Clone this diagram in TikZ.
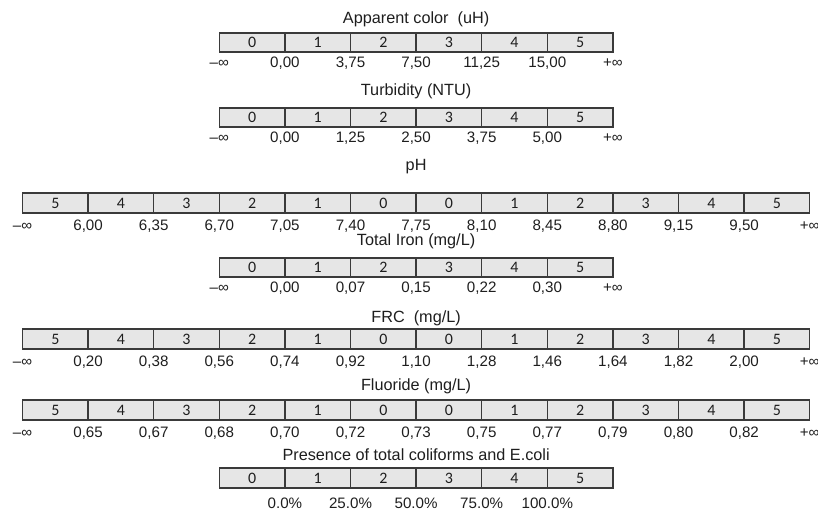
\documentclass[tikz,border=0pt]{standalone}
\usepackage{fontspec}
\setmainfont{Liberation Sans}
\newfontfamily\cellfont{Carlito}
\definecolor{cellfill}{HTML}{E6E6E6}
\definecolor{edge}{HTML}{3A3A3A}
\definecolor{ink}{HTML}{1E1E1E}
\tikzset{
  cellbox/.style={draw=edge, fill=cellfill, line width=1.4bp, minimum width=65.6bp,
    minimum height=#1, inner sep=0pt, font=\cellfont\fontsize{16}{16}\selectfont, text=ink},
  ttl/.style={anchor=base, font=\fontsize{16.3}{17}\selectfont, text=ink, inner sep=0pt},
  lbl/.style={anchor=base, font=\fontsize{15.2}{16}\selectfont, text=ink, inner sep=0pt},
}
% #1 name, #2 title, #3 title baseline, #4 bar top, #5 bar bottom,
% #6 label baseline, #7 first column, #8 cells, #9 labels
\newcommand\scalerow[9]{%
  \node[ttl] (#1-t) at (416.1,#3) {#2};
  \foreach \c [count=\i from 0] in {#8} {
    \node[cellbox={(#5-#4)*1bp}] (#1-c\i) at ({22.5+65.6*(#7+\i+0.5)},{(#4+#5)/2}) {\c};
  }
  \foreach \l [count=\i from 0] in {#9} {
    \node[lbl] (#1-l\i) at ({22.5+65.6*(#7+\i)},#6) {\l};
  }
}
\begin{document}
\begin{tikzpicture}[x=1bp,y=-1bp]
\useasboundingbox (0,0) rectangle (818,513);
\scalerow{ac}{Apparent color\ \ (uH)}{24}{33}{52}{68}{3}{0,1,2,3,4,5}%
  {–∞,{0,00},{3,75},{7,50},{11,25},{15,00},+∞}
\scalerow{tu}{Turbidity (NTU)}{96}{108}{127}{143}{3}{0,1,2,3,4,5}%
  {–∞,{0,00},{1,25},{2,50},{3,75},{5,00},+∞}
\scalerow{ph}{pH}{171}{193}{213}{231}{0}{5,4,3,2,1,0,0,1,2,3,4,5}%
  {–∞,{6,00},{6,35},{6,70},{7,05},{7,40},{7,75},{8,10},{8,45},{8,80},{9,15},{9,50},+∞}
\scalerow{fe}{Total Iron (mg/L)}{246}{258}{277}{293}{3}{0,1,2,3,4,5}%
  {–∞,{0,00},{0,07},{0,15},{0,22},{0,30},+∞}
\scalerow{frc}{FRC\ \ (mg/L)}{323}{329}{349}{366}{0}{5,4,3,2,1,0,0,1,2,3,4,5}%
  {–∞,{0,20},{0,38},{0,56},{0,74},{0,92},{1,10},{1,28},{1,46},{1,64},{1,82},{2,00},+∞}
\scalerow{fl}{Fluoride (mg/L)}{390}{400}{420}{437}{0}{5,4,3,2,1,0,0,1,2,3,4,5}%
  {–∞,{0,65},{0,67},{0,68},{0,70},{0,72},{0,73},{0,75},{0,77},{0,79},{0,80},{0,82},+∞}
\scalerow{co}{Presence of total coliforms and E.coli}{460}{468}{488}{508}{3}{0,1,2,3,4,5}{}
\foreach \l [count=\i from 1] in {0.0\%,25.0\%,50.0\%,75.0\%,100.0\%} {
  \node[lbl] (co-p\i) at ({22.5+65.6*(3+\i)},508) {\l};
}
\end{tikzpicture}
\end{document}
